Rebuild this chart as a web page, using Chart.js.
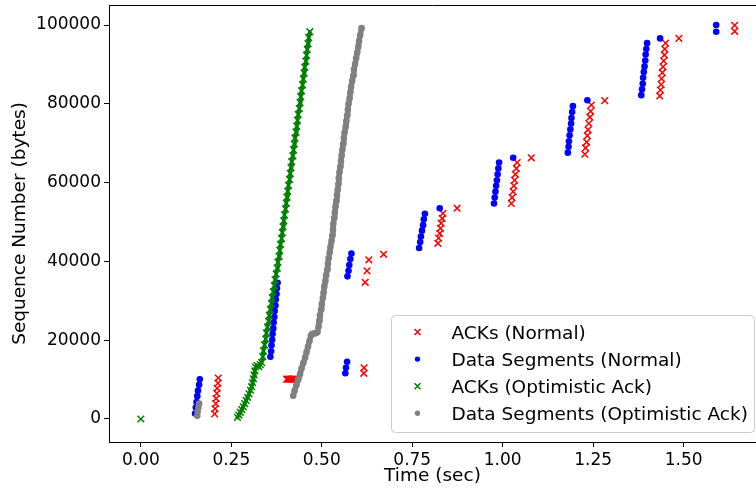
<!DOCTYPE html>
<html>
<head>
<meta charset="utf-8">
<title>Sequence Number vs Time</title>
<script src="https://cdn.jsdelivr.net/npm/chart.js@4"></script>
<style>
  html, body { margin: 0; padding: 0; background: #fff; }
</style>
</head>
<body>
<canvas id="grafico-seq" width="756" height="491"></canvas>
<script>
// Eixos
var ticksTempo = [0, 0.25, 0.5, 0.75, 1.0, 1.25, 1.5];
var ticksSeq = [0, 20000, 40000, 60000, 80000, 100000];

var nomesSeries = ['ACKs (Normal)', 'Data Segments (Normal)', 'ACKs (Optimistic Ack)', 'Data Segments (Optimistic Ack)'];

// ACKs (Normal)
var ackNormalTempo = [0.204, 0.205, 0.207, 0.208, 0.210, 0.211, 0.213, 0.214,
    0.403, 0.406, 0.409, 0.412, 0.415, 0.418, 0.421, 0.424,
    0.616, 0.617, 0.620, 0.625, 0.630, 0.671,
    0.821, 0.823, 0.826, 0.828, 0.830, 0.833, 0.835, 0.874,
    1.024, 1.026, 1.029, 1.031, 1.033, 1.035, 1.038, 1.040, 1.079,
    1.227, 1.229, 1.232, 1.234, 1.236, 1.238, 1.241, 1.243, 1.245, 1.282,
    1.434, 1.436, 1.438, 1.439, 1.441, 1.443, 1.445, 1.447, 1.448, 1.450, 1.487,
    1.641, 1.641];
var ackNormalSeq = [1300, 2600, 3900, 5200, 6500, 7800, 9100, 10400,
    10100, 10100, 10100, 10100, 10100, 10100, 10100, 10100,
    11600, 13000, 34700, 37600, 40400, 41800,
    44600, 45900, 47100, 48400, 49700, 50900, 52200, 53500,
    54700, 56200, 57700, 59200, 60600, 62100, 63600, 65100, 66300,
    67200, 68800, 70300, 71900, 73400, 75000, 76600, 78100, 79700, 80800,
    82000, 83500, 84900, 86400, 87900, 89400, 90900, 92400, 93900, 95400, 96600,
    98400, 99900];

// Data Segments (Normal)
var dadosNormalTempo = [0.150, 0.152, 0.154, 0.156, 0.158, 0.161, 0.163,
    0.358, 0.360, 0.361, 0.363, 0.364, 0.366, 0.367, 0.369, 0.370, 0.372, 0.373, 0.375, 0.376, 0.378,
    0.565, 0.567, 0.570,
    0.571, 0.574, 0.576, 0.579, 0.582,
    0.769, 0.772, 0.774, 0.777, 0.780, 0.782, 0.785, 0.826,
    0.976, 0.978, 0.980, 0.982, 0.984, 0.986, 0.988, 0.990, 1.029,
    1.180, 1.182, 1.183, 1.185, 1.187, 1.189, 1.190, 1.192, 1.194, 1.234,
    1.383, 1.385, 1.387, 1.388, 1.390, 1.392, 1.394, 1.395, 1.397, 1.399, 1.435,
    1.590, 1.590];
var dadosNormalSeq = [1400, 2900, 4300, 5800, 7200, 8700, 10100,
    15800, 17200, 18700, 20100, 21600, 23000, 24500, 25900, 27400, 28800, 30300, 31700, 33200, 34600,
    11600, 13000, 14500,
    36200, 37600, 39100, 40600, 42000,
    43400, 44900, 46300, 47800, 49200, 50700, 52100, 53500,
    54700, 56200, 57700, 59200, 60600, 62100, 63600, 65100, 66300,
    67600, 69100, 70500, 72000, 73500, 75000, 76400, 77900, 79400, 80900,
    82200, 83700, 85100, 86600, 88100, 89500, 91000, 92500, 93900, 95400, 96600,
    98300, 100000];

// ACKs (Optimistic Ack) - o primeiro ponto fica isolado em t = 0
var ackOtimTempo = [0.000,
    0.267, 0.271, 0.275, 0.279, 0.283, 0.287, 0.291, 0.295, 0.299, 0.303,
    0.306, 0.309, 0.311, 0.313, 0.315, 0.317, 0.321, 0.326, 0.330,
    0.334, 0.337, 0.339, 0.342, 0.345, 0.347, 0.350, 0.353, 0.355, 0.358,
    0.361, 0.363, 0.366, 0.369, 0.371, 0.374, 0.377, 0.379, 0.382, 0.384,
    0.386, 0.389, 0.391, 0.393, 0.395, 0.397, 0.400, 0.402, 0.404, 0.406,
    0.408, 0.411, 0.413, 0.415, 0.417, 0.420, 0.422, 0.424, 0.426, 0.429,
    0.431, 0.433, 0.435, 0.438, 0.440, 0.442, 0.444, 0.447, 0.449, 0.451,
    0.453, 0.456, 0.458, 0.460, 0.462, 0.464, 0.467];
var ackOtimSeq = [0,
    400, 1000, 1700, 2400, 3100, 3900, 4700, 5500, 6400, 7300,
    8200, 9200, 10200, 11200, 12200, 13200, 13600, 13300, 13800,
    14300, 15800, 17300, 18800, 20300, 21800, 23300, 24800, 26300, 27800,
    29300, 30800, 32300, 33800, 35300, 36800, 38300, 39800, 41300, 42800,
    44300, 45800, 47300, 48800, 50300, 51800, 53300, 54800, 56300, 57800,
    59300, 60800, 62300, 63800, 65300, 66800, 68300, 69800, 71300, 72800,
    74300, 75800, 77300, 78800, 80300, 81800, 83300, 84800, 86300, 87800,
    89300, 90800, 92300, 93800, 95300, 96800, 98300];

// Data Segments (Optimistic Ack) - os 4 primeiros pontos ficam junto do primeiro bloco normal
var dadosOtimTempo = [0.156, 0.157, 0.159, 0.161,
    0.421, 0.425, 0.430, 0.435, 0.440, 0.444, 0.449, 0.454, 0.458, 0.462, 0.466, 0.470,
    0.474, 0.479, 0.484, 0.488,
    0.491, 0.493, 0.495, 0.498, 0.500, 0.503, 0.505, 0.507, 0.510, 0.512, 0.515, 0.517, 0.519, 0.522, 0.524, 0.527,
    0.529, 0.531, 0.532, 0.534, 0.536, 0.538, 0.540, 0.542, 0.544, 0.546, 0.547, 0.549, 0.551, 0.553, 0.555, 0.557, 0.559,
    0.561, 0.563, 0.566, 0.568, 0.570, 0.572, 0.574, 0.577, 0.579, 0.581,
    0.584, 0.587, 0.589, 0.592, 0.595, 0.598, 0.601, 0.603, 0.606, 0.610];
var dadosOtimSeq = [800, 1900, 2900, 3900,
    5900, 7200, 8600, 10000, 11400, 12800, 14200, 15600, 17000, 18400, 19800, 21200,
    21600, 21700, 21800, 22000,
    23400, 24900, 26300, 27800, 29200, 30700, 32100, 33600, 35000, 36500, 37900, 39400, 40800, 42300, 43700, 45200,
    46600, 48100, 49500, 51000, 52400, 53900, 55300, 56800, 58200, 59700, 61100, 62600, 64000, 65500, 66900, 68400, 69800,
    71300, 72700, 74200, 75600, 77100, 78500, 80000, 81400, 82900, 84300,
    85800, 87200, 88700, 90100, 91600, 93000, 94500, 95900, 97400, 99200];

var cores = ['#ff0000', '#0000ff', '#008000', '#808080'];
var marcadores = ['x', 'o', 'x', 'o'];

function pontos(tempos, seqs) {
    return tempos.map(function (t, i) { return { x: t, y: seqs[i] }; });
}

// Linha de cima do quadro e a legenda dentro do grafico
var molduraELegenda = {
    id: 'molduraELegenda',
    afterDraw: function (chart) {
        var ctx = chart.ctx;
        var area = chart.chartArea;
        ctx.save();
        ctx.strokeStyle = '#000';
        ctx.lineWidth = 1;
        ctx.beginPath();
        ctx.moveTo(area.left, area.top + 0.5);
        ctx.lineTo(area.right, area.top + 0.5);
        ctx.stroke();

        // caixa da legenda
        var dir = area.right - 1.5, baixo = area.bottom - 9.5;
        var esq = 391.5, topo = 315.5, r = 4;
        ctx.beginPath();
        ctx.moveTo(esq + r, topo);
        ctx.arcTo(dir, topo, dir, baixo, r);
        ctx.arcTo(dir, baixo, esq, baixo, r);
        ctx.arcTo(esq, baixo, esq, topo, r);
        ctx.arcTo(esq, topo, dir, topo, r);
        ctx.closePath();
        ctx.fillStyle = 'rgba(255,255,255,0.8)';
        ctx.fill();
        ctx.strokeStyle = '#cccccc';
        ctx.stroke();

        ctx.font = '18.5px "DejaVu Sans"';
        ctx.textBaseline = 'middle';
        ctx.textAlign = 'left';
        for (var i = 0; i < nomesSeries.length; i++) {
            var y = 332 + 27.1 * i;
            var x = esq + 26;
            if (marcadores[i] === 'x') {
                ctx.strokeStyle = cores[i];
                ctx.lineWidth = 1.5;
                ctx.beginPath();
                ctx.moveTo(x - 3, y - 3); ctx.lineTo(x + 3, y + 3);
                ctx.moveTo(x - 3, y + 3); ctx.lineTo(x + 3, y - 3);
                ctx.stroke();
            } else {
                ctx.fillStyle = cores[i];
                ctx.beginPath();
                ctx.arc(x, y, 2.7, 0, Math.PI * 2);
                ctx.fill();
            }
            ctx.fillStyle = '#000';
            ctx.fillText(nomesSeries[i], esq + 60, y + 2);
        }
        ctx.restore();
    }
};

function serie(indice, tempos, seqs, ordem) {
    var cruz = marcadores[indice] === 'x';
    return {
        label: nomesSeries[indice],
        data: pontos(tempos, seqs),
        pointStyle: cruz ? 'crossRot' : 'circle',
        pointRadius: cruz ? 4.7 : 3.3,
        pointBorderWidth: cruz ? 1.5 : 0,
        borderColor: cores[indice],
        backgroundColor: cores[indice],
        order: ordem
    };
}

// faixa continua por baixo das marcas densas (as marcas se sobrepoem no original)
function faixa(indice, tempos, seqs, largura, ordem) {
    return {
        label: nomesSeries[indice] + ' (faixa)',
        data: pontos(tempos, seqs),
        showLine: true,
        pointRadius: 0,
        borderWidth: largura,
        borderColor: cores[indice],
        backgroundColor: cores[indice],
        borderCapStyle: 'round',
        borderJoinStyle: 'round',
        order: ordem
    };
}

function inicializarGrafico() {
    Chart.defaults.font.family = '"DejaVu Sans"';
    Chart.defaults.color = '#000';

    new Chart(document.getElementById('grafico-seq').getContext('2d'), {
        type: 'scatter',
        data: {
            datasets: [
                serie(0, ackNormalTempo, ackNormalSeq, 6),
                serie(1, dadosNormalTempo, dadosNormalSeq, 5),
                faixa(2, ackOtimTempo.slice(1), ackOtimSeq.slice(1), 3.5, 4),
                serie(2, ackOtimTempo, ackOtimSeq, 3),
                faixa(3, dadosOtimTempo.slice(4), dadosOtimSeq.slice(4), 5.5, 2),
                serie(3, dadosOtimTempo, dadosOtimSeq, 1)
            ]
        },
        options: {
            responsive: false,
            animation: false,
            devicePixelRatio: 1,
            layout: { autoPadding: false, padding: { top: 5, right: 0, bottom: 0, left: 0 } },
            plugins: {
                legend: { display: false },
                tooltip: { enabled: false }
            },
            scales: {
                x: {
                    type: 'linear',
                    min: -0.088,
                    max: 1.70,
                    grid: { display: true, drawOnChartArea: false, drawTicks: true, tickLength: 5, tickColor: '#000' },
                    border: { display: true, color: '#000', width: 1 },
                    ticks: {
                        autoSkip: false,
                        maxRotation: 0,
                        padding: 3,
                        font: { size: 17 },
                        callback: function (v) { return Number(v).toFixed(2); }
                    },
                    afterBuildTicks: function (scale) {
                        scale.ticks = ticksTempo.map(function (v) { return { value: v }; });
                    },
                    afterFit: function (scale) {
                        scale.height = 49;
                        scale.paddingLeft = 0;
                        scale.paddingRight = 0;
                    },
                    title: {
                        display: true,
                        text: 'Time (sec)',
                        font: { size: 18.5 },
                        padding: { top: 0, bottom: 4 }
                    }
                },
                y: {
                    type: 'linear',
                    min: -5840,
                    max: 105080,
                    grid: { display: true, drawOnChartArea: false, drawTicks: true, tickLength: 5, tickColor: '#000' },
                    border: { display: true, color: '#000', width: 1 },
                    ticks: {
                        autoSkip: false,
                        padding: 3,
                        font: { size: 17 },
                        callback: function (v) { return String(v); }
                    },
                    afterBuildTicks: function (scale) {
                        scale.ticks = ticksSeq.map(function (v) { return { value: v }; });
                    },
                    afterFit: function (scale) {
                        scale.width = 109;
                        scale.paddingTop = 0;
                        scale.paddingBottom = 0;
                    },
                    title: {
                        display: true,
                        text: 'Sequence Number (bytes)',
                        font: { size: 18.5 },
                        padding: { top: 9, bottom: 0 }
                    }
                }
            }
        },
        plugins: [molduraELegenda]
    });
}

window.onload = inicializarGrafico;
</script>
</body>
</html>
